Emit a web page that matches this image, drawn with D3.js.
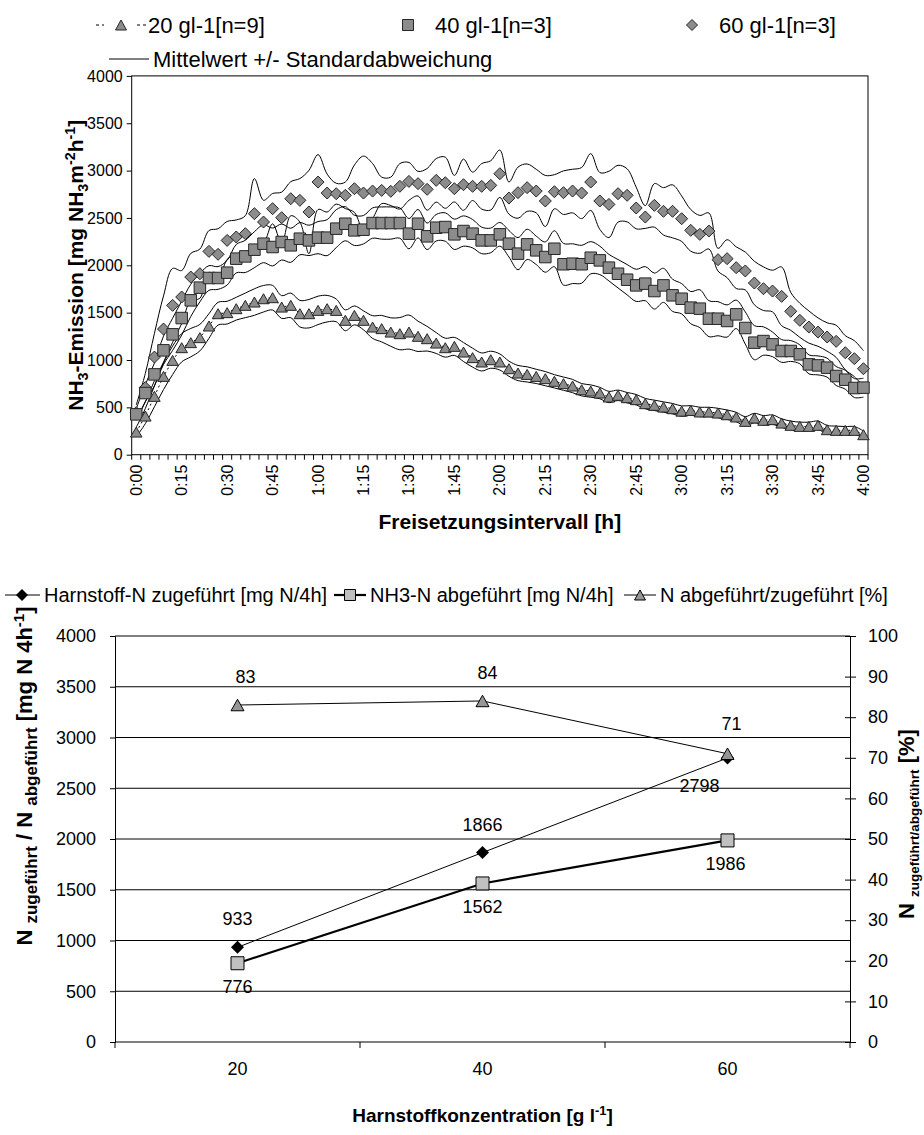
<!DOCTYPE html>
<html><head><meta charset="utf-8">
<script src="https://cdn.jsdelivr.net/npm/d3@7"></script>
<style>
body{margin:0;background:#fff}
svg{display:block}
text{font-family:Arial,"Liberation Sans",sans-serif;fill:#000}
</style>
</head><body>
<svg id="c" width="924" height="1135"></svg>
<script>
// ---------- DATA: top chart (NH3 emission, 3-min intervals 0:00 .. 4:00) ----------
const tickLabels = ["0:00","0:15","0:30","0:45","1:00","1:15","1:30","1:45","2:00","2:15","2:30","2:45","3:00","3:15","3:30","3:45","4:00"];
const seriesNames = ["20 gl-1[n=9]","40 gl-1[n=3]","60 gl-1[n=3]"];
const mean20 = [239,408,616,827,996,1130,1183,1236,1359,1489,1500,1542,1577,1612,1647,1658,1559,1577,1489,1489,
 1524,1542,1524,1419,1471,1419,1348,1331,1295,1278,1295,1250,1225,1179,1130,1144,1084,1025,979,1003,
 979,908,862,848,827,803,775,750,725,686,672,651,609,627,602,581,539,521,503,486,
 460,468,451,451,440,422,398,352,387,363,370,334,310,299,299,310,264,257,257,257,211];
const mean40 = [426,651,848,1102,1271,1443,1630,1764,1866,1866,1922,2070,2094,2165,2228,2193,2246,2211,2281,2263,
 2292,2292,2387,2439,2369,2376,2446,2446,2446,2446,2334,2439,2306,2397,2404,2327,2362,2334,2263,2263,
 2327,2228,2123,2221,2158,2087,2175,2011,2017,2011,2080,2052,1975,1911,1848,1788,1806,1728,1788,1683,
 1647,1553,1542,1436,1436,1412,1482,1338,1183,1200,1165,1095,1095,1060,954,943,919,831,792,704,708];
const mean60 = [444,708,1031,1327,1577,1665,1876,1911,2147,2116,2263,2299,2334,2545,2457,2598,2503,2703,2686,2563,
 2879,2763,2756,2739,2809,2763,2784,2791,2781,2834,2886,2862,2802,2897,2872,2809,2851,2834,2834,2844,
 2967,2710,2767,2820,2784,2679,2777,2767,2784,2763,2879,2679,2643,2756,2739,2605,2510,2633,2570,2570,
 2492,2369,2327,2362,2059,2070,1975,1940,1813,1753,1728,1672,1514,1419,1348,1295,1243,1197,1077,1014,908];
const sd20 = [50,80,110,140,150,150,150,140,130,120,120,120,130,140,140,130,120,130,140,150,
 150,140,120,110,100,100,120,140,150,170,180,160,130,110,100,95,100,100,95,90,
 85,80,80,80,75,75,70,70,70,65,65,60,60,55,55,55,55,55,55,55,
 55,50,50,50,50,50,50,50,50,50,50,45,45,45,45,45,45,45,40,40,40];
const sd40 = [60,90,120,150,170,180,170,150,130,120,130,150,170,190,200,200,190,180,170,160,
 170,190,200,180,160,150,160,170,170,160,160,150,140,140,150,160,160,150,140,130,
 125,140,170,160,150,160,190,220,210,200,170,150,140,150,160,170,180,190,180,170,
 160,170,200,190,180,170,150,170,180,150,130,120,110,100,100,100,100,100,100,100,100];
const sd60 = [80,150,250,350,390,280,250,260,220,270,200,180,190,370,230,160,270,180,230,440,
 290,200,110,140,250,390,290,140,150,240,200,130,220,230,270,140,270,150,240,260,
 250,170,270,250,230,270,180,230,230,270,300,300,350,300,280,220,120,230,250,280,
 240,220,200,190,120,200,220,200,230,230,220,310,200,180,170,150,150,170,180,190,190];

// ---------- DATA: bottom chart ----------
const conc = ["20","40","60"];
const nSupplied = [933,1866,2798];
const nEmitted = [776,1562,1986];
const ratioPct = [83,84,71];
const bottomLegend = ["Harnstoff-N zugeführt [mg N/4h]","NH3-N abgeführt [mg N/4h]","N abgeführt/zugeführt [%]"];

// ---------- helpers ----------
const svg = d3.select("#c");
const FONT = 'Arial,"Liberation Sans",sans-serif';

function rich(g, parts, size, bold){
  const t = g.append("text").attr("font-size", size).attr("font-weight", bold ? "bold" : "normal");
  let cur = 0;
  parts.forEach(p => {
    const kind = p[1] || "";
    const fs = p[2] || (kind ? size*0.68 : size);
    const shift = kind === "sup" ? -size*0.38 : kind === "sub" ? size*0.22 : 0;
    t.append("tspan").attr("font-size", fs).attr("dy", shift - cur).text(p[0]);
    cur = shift;
  });
  return t;
}
function tri(w,h){ return `M0,${-h/2}L${w/2},${h/2}L${-w/2},${h/2}Z`; }
function dia(r){ return `M0,${-r}L${r},0L0,${r}L${-r},0Z`; }
function sq(s){ return `M${-s/2},${-s/2}h${s}v${s}h${-s}Z`; }

// ================= TOP CHART =================
const T = {l:131.7, r:868, t:75.9, b:454.7};
const xT = d3.scaleBand().domain(d3.range(mean20.length)).range([T.l, T.r]);
const bw = xT.bandwidth();
const cx = i => xT(i) + bw/2;
const yT = d3.scaleLinear().domain([0,4000]).range([T.b, T.t]);

const gTop = svg.append("g");
const ya = gTop.append("g").attr("transform", `translate(${T.l},0)`)
  .call(d3.axisLeft(yT).tickValues(d3.range(0,4001,500)).tickSize(5).tickPadding(4).tickFormat(d3.format("d")));
ya.select(".domain").remove();
ya.selectAll("text").attr("font-size", 16).attr("font-family", FONT).attr("fill","#000");
ya.selectAll("line").attr("stroke","#000");
const bounds = xT.domain().map(i => xT(i)).concat([T.r]);
gTop.append("g").selectAll("line").data(bounds).join("line")
  .attr("x1", d=>d).attr("x2", d=>d).attr("y1", T.b).attr("y2", T.b+5).attr("stroke","#000");
gTop.append("g").selectAll("text").data(tickLabels).join("text")
  .attr("transform", (d,j) => `translate(${cx(j*5)+5.5},${T.b+10}) rotate(-90)`)
  .attr("text-anchor","end").attr("font-size",16).text(d=>d);
gTop.append("rect").attr("x",T.l).attr("y",T.t).attr("width",T.r-T.l).attr("height",T.b-T.t)
  .attr("fill","none").attr("stroke","#000").attr("stroke-width",1);

const sLine = d3.line().x((d,i)=>cx(i)).y(d=>yT(d)).curve(d3.curveCatmullRom.alpha(0.5));
[[mean20,sd20],[mean40,sd40],[mean60,sd60]].forEach(([m,s]) => {
  gTop.append("path").attr("d", sLine(m.map((v,i)=>v+s[i]))).attr("fill","none").attr("stroke","#000").attr("stroke-width",1);
  gTop.append("path").attr("d", sLine(m.map((v,i)=>v-s[i]))).attr("fill","none").attr("stroke","#000").attr("stroke-width",1);
});
gTop.append("path").attr("d", d3.line().x((d,i)=>cx(i)).y(d=>yT(d))(mean20))
  .attr("fill","none").attr("stroke","#000").attr("stroke-width",1).attr("stroke-dasharray","2,3");

const MF = "#8c8c8c", MS = "#262626";
gTop.append("g").selectAll("path").data(mean60).join("path")
  .attr("transform",(d,i)=>`translate(${cx(i)},${yT(d)})`).attr("d", dia(6))
  .attr("fill",MF).attr("stroke",MS).attr("stroke-width",1);
gTop.append("g").selectAll("path").data(mean40).join("path")
  .attr("transform",(d,i)=>`translate(${cx(i)},${yT(d)})`).attr("d", sq(11.5))
  .attr("fill",MF).attr("stroke",MS).attr("stroke-width",1);
gTop.append("g").selectAll("path").data(mean20).join("path")
  .attr("transform",(d,i)=>`translate(${cx(i)},${yT(d)})`).attr("d", tri(11.5,10))
  .attr("fill",MF).attr("stroke",MS).attr("stroke-width",1);

const lg = gTop.append("g");
lg.append("line").attr("x1",96).attr("x2",104).attr("y1",25).attr("y2",25).attr("stroke","#000").attr("stroke-dasharray","3,3");
lg.append("line").attr("x1",137).attr("x2",146).attr("y1",25).attr("y2",25).attr("stroke","#000").attr("stroke-dasharray","3,3");
lg.append("path").attr("transform","translate(121,25)").attr("d",tri(11,10)).attr("fill",MF).attr("stroke",MS);
lg.append("text").attr("x",148).attr("y",33).attr("font-size",22).text(seriesNames[0]);
lg.append("path").attr("transform","translate(408,25)").attr("d",sq(11)).attr("fill",MF).attr("stroke",MS);
lg.append("text").attr("x",435).attr("y",33).attr("font-size",22).text(seriesNames[1]);
lg.append("path").attr("transform","translate(692,25)").attr("d",dia(5.5)).attr("fill",MF).attr("stroke",MS);
lg.append("text").attr("x",719).attr("y",33).attr("font-size",22).text(seriesNames[2]);
lg.append("line").attr("x1",109).attr("x2",149).attr("y1",59).attr("y2",59).attr("stroke","#000");
lg.append("text").attr("x",153).attr("y",67).attr("font-size",22).text("Mittelwert +/- Standardabweichung");

const tx = rich(gTop, [["Freisetzungsintervall [h]"]], 21, true);
tx.attr("x", (T.l+T.r)/2).attr("y", 529).attr("text-anchor","middle");
const ty = rich(gTop, [["NH"],["3","sub"],["-Emission [mg NH"],["3","sub"],["m"],["-2","sup"],["h"],["-1","sup"],["]"]], 21, true);
ty.attr("text-anchor","middle").attr("transform", `translate(83,${(T.t+T.b)/2}) rotate(-90)`);

// ================= BOTTOM CHART =================
const B = {l:115, r:850, t:636, b:1042};
const xB = d3.scaleBand().domain(conc).range([B.l, B.r]);
const bcx = c => xB(c) + xB.bandwidth()/2;
const yL = d3.scaleLinear().domain([0,4000]).range([B.b, B.t]);
const yR = d3.scaleLinear().domain([0,100]).range([B.b, B.t]);
const bot = svg.append("g");

bot.append("g").selectAll("line").data(d3.range(500,4001,500)).join("line")
  .attr("x1",B.l).attr("x2",B.r).attr("y1",d=>yL(d)).attr("y2",d=>yL(d)).attr("stroke","#000");
const la = bot.append("g").attr("transform",`translate(${B.l},0)`)
  .call(d3.axisLeft(yL).tickValues(d3.range(0,4001,500)).tickSize(5).tickPadding(14).tickFormat(d3.format("d")));
la.selectAll("text").attr("font-size",18).attr("font-family",FONT).attr("fill","#000");
la.selectAll("line,path").attr("stroke","#000");
const ra = bot.append("g").attr("transform",`translate(${B.r},0)`)
  .call(d3.axisRight(yR).tickValues(d3.range(0,101,10)).tickSize(6).tickPadding(12).tickFormat(d3.format("d")));
ra.selectAll("text").attr("font-size",18).attr("font-family",FONT).attr("fill","#000");
ra.selectAll("line,path").attr("stroke","#000");
ra.selectAll(".tick line").attr("x1",-5);
bot.append("line").attr("x1",B.l).attr("x2",B.r).attr("y1",B.b).attr("y2",B.b).attr("stroke","#000");
bot.append("g").selectAll("line").data(conc.map(c=>xB(c)).concat([B.r])).join("line")
  .attr("x1",d=>d).attr("x2",d=>d).attr("y1",B.b).attr("y2",B.b+6).attr("stroke","#000");
bot.append("g").selectAll("text").data(conc).join("text")
  .attr("x",d=>bcx(d)).attr("y",B.b+33).attr("text-anchor","middle").attr("font-size",18).text(d=>d);

const lineL = d3.line().x((d,i)=>bcx(conc[i])).y(d=>yL(d));
const lineR = d3.line().x((d,i)=>bcx(conc[i])).y(d=>yR(d));
bot.append("path").attr("d",lineL(nSupplied)).attr("fill","none").attr("stroke","#000").attr("stroke-width",1);
bot.append("path").attr("d",lineL(nEmitted)).attr("fill","none").attr("stroke","#000").attr("stroke-width",2.2);
bot.append("path").attr("d",lineR(ratioPct)).attr("fill","none").attr("stroke","#000").attr("stroke-width",1);
bot.append("g").selectAll("path").data(nSupplied).join("path")
  .attr("transform",(d,i)=>`translate(${bcx(conc[i])},${yL(d)})`).attr("d",dia(6.5)).attr("fill","#000");
bot.append("g").selectAll("path").data(nEmitted).join("path")
  .attr("transform",(d,i)=>`translate(${bcx(conc[i])},${yL(d)})`).attr("d",sq(13)).attr("fill","#c0c0c0").attr("stroke","#000");
bot.append("g").selectAll("path").data(ratioPct).join("path")
  .attr("transform",(d,i)=>`translate(${bcx(conc[i])},${yR(d)})`).attr("d",tri(13,11.5)).attr("fill","#969696").attr("stroke","#000");

const offS = [[0,-22],[0,-22],[-28,34]];
const offE = [[0,30],[0,30],[-2,30]];
const offR = [[8,-22],[5,-22],[4,-24]];
bot.append("g").selectAll("text").data(nSupplied).join("text")
  .attr("x",(d,i)=>bcx(conc[i])+offS[i][0]).attr("y",(d,i)=>yL(d)+offS[i][1])
  .attr("text-anchor","middle").attr("font-size",18).text(d=>d);
bot.append("g").selectAll("text").data(nEmitted).join("text")
  .attr("x",(d,i)=>bcx(conc[i])+offE[i][0]).attr("y",(d,i)=>yL(d)+offE[i][1])
  .attr("text-anchor","middle").attr("font-size",18).text(d=>d);
bot.append("g").selectAll("text").data(ratioPct).join("text")
  .attr("x",(d,i)=>bcx(conc[i])+offR[i][0]).attr("y",(d,i)=>yR(d)+offR[i][1])
  .attr("text-anchor","middle").attr("font-size",18).text(d=>d);

const bl = bot.append("g");
const ly = 595;
bl.append("line").attr("x1",5).attr("x2",40).attr("y1",ly).attr("y2",ly).attr("stroke","#000");
bl.append("path").attr("transform",`translate(22,${ly})`).attr("d",dia(6)).attr("fill","#000");
bl.append("text").attr("x",44).attr("y",ly+7).attr("font-size",20).text(bottomLegend[0]);
bl.append("line").attr("x1",334).attr("x2",366).attr("y1",ly).attr("y2",ly).attr("stroke","#000").attr("stroke-width",2.2);
bl.append("path").attr("transform",`translate(350,${ly})`).attr("d",sq(11)).attr("fill","#c0c0c0").attr("stroke","#000");
bl.append("text").attr("x",370).attr("y",ly+7).attr("font-size",20).text(bottomLegend[1]);
bl.append("line").attr("x1",624).attr("x2",656).attr("y1",ly).attr("y2",ly).attr("stroke","#000");
bl.append("path").attr("transform",`translate(640,${ly})`).attr("d",tri(11,10)).attr("fill","#969696").attr("stroke","#000");
bl.append("text").attr("x",660).attr("y",ly+7).attr("font-size",20).text(bottomLegend[2]);

const bx = rich(bot, [["Harnstoffkonzentration [g l"],["-1","sup"],["]"]], 19, true);
bx.attr("x",(B.l+B.r)/2).attr("y",1122).attr("text-anchor","middle");
const byl = rich(bot, [["N "],["zugeführt","sub",17],[" / N "],["abgeführt","sub",17],[" [mg N 4h"],["-1","sup",15],["]"]], 22, true);
byl.attr("text-anchor","middle").attr("transform",`translate(32,776) rotate(-90)`);
const byr = rich(bot, [["N "],["zugeführt/abgeführt","sub",13.5],[" [%]"]], 22, true);
byr.attr("text-anchor","middle").attr("transform",`translate(914,824) rotate(-90)`);
</script>
</body></html>
